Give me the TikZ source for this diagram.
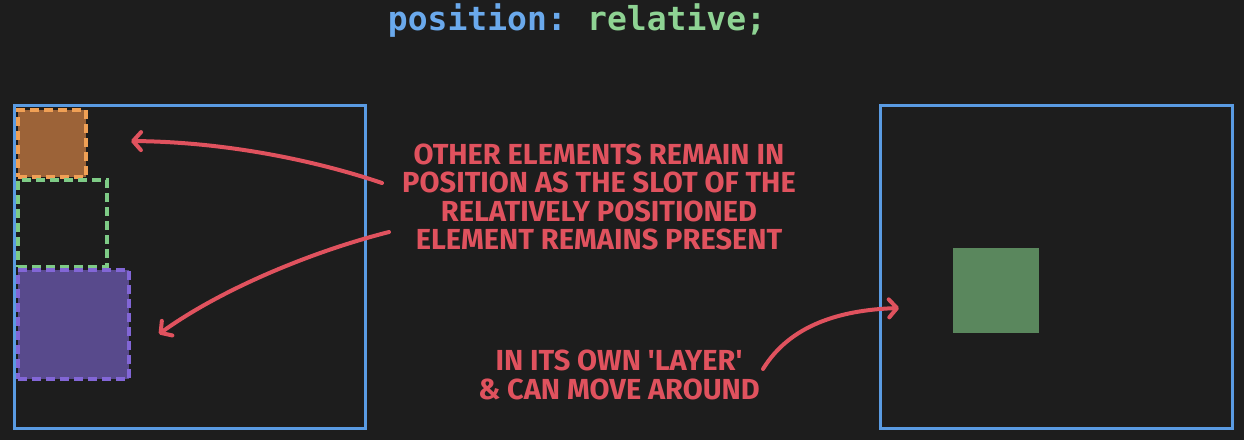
\documentclass[tikz,border=0pt]{standalone}
\usepackage{fontspec}
\usetikzlibrary{arrows.meta}
\newfontfamily\handfont{Fira Sans}
\newfontfamily\codefont{DejaVu Sans Mono}
\definecolor{bg}{HTML}{1D1D1D}
\definecolor{boxblue}{HTML}{5A9BE2}
\definecolor{codeblue}{HTML}{6AA9EC}
\definecolor{codegreen}{HTML}{8ED393}
\definecolor{orfill}{HTML}{9C6338}
\definecolor{ordash}{HTML}{F0A055}
\definecolor{grdash}{HTML}{7ECB86}
\definecolor{pufill}{HTML}{584A8C}
\definecolor{pudash}{HTML}{8266D6}
\definecolor{grfill}{HTML}{5A875D}
\definecolor{hred}{HTML}{E0525E}
\tikzset{
  frame/.style={draw=boxblue, line width=3pt, inner sep=0pt, anchor=north west},
  dbox/.style={line width=4pt, dash pattern=on 9pt off 5pt, inner sep=0pt, anchor=north west},
  note/.style={text=hred, font=\handfont\bfseries\fontsize{29}{28.5}\selectfont, align=center},
  redarrow/.style={draw=hred, line width=4pt, line cap=round, -{Straight Barb[length=8pt,width=18pt,line cap=round,line join=round]}}
}
\begin{document}
\begin{tikzpicture}[x=1pt,y=-1pt]
\fill[bg] (0,0) rectangle (1244,440);
\useasboundingbox (0,0) rectangle (1244,440);
% title
\node (title) at (577,21) {\codefont\bfseries\fontsize{33}{33}\selectfont\textcolor{codeblue}{position:}\hspace{0.62em}\textcolor{codegreen}{relative;}};
% left container
\node[frame, minimum width=351pt, minimum height=323pt] (leftbox) at (13,104) {};
\node[dbox, draw=ordash, fill=orfill, minimum width=68pt, minimum height=67pt] (orange) at (16,108) {};
\node[dbox, draw=grdash, minimum width=89pt, minimum height=87pt] (green) at (16,178) {};
\node[dbox, draw=pudash, fill=pufill, minimum width=111pt, minimum height=109pt] (purple) at (16,268) {};
% right container
\node[frame, minimum width=352pt, minimum height=323pt] (rightbox) at (879,104) {};
\node[fill=grfill, inner sep=0pt, minimum width=86pt, minimum height=85pt, anchor=north west] (moved) at (953,248) {};
% notes
\node[note] (note1) at (599,197) {OTHER ELEMENTS REMAIN IN\\POSITION AS THE SLOT OF THE\\RELATIVELY POSITIONED\\ELEMENT REMAINS PRESENT};
\node[note] (note2) at (619,375) {IN ITS OWN 'LAYER'\\\& CAN MOVE AROUND};
% arrows
\coordinate (a1s) at (382,183);
\coordinate (a1e) at (131,141);
\coordinate (a2s) at (389,232);
\coordinate (a2e) at (159,334);
\coordinate (a3s) at (763,369);
\coordinate (a3e) at (899,308);
\draw[redarrow] (a1s) .. controls (320,162) and (230,142) .. (a1e);
\draw[redarrow] (a2s) .. controls (310,252) and (220,290) .. (a2e);
\draw[redarrow] (a3s) .. controls (790,325) and (840,310) .. (a3e);
\end{tikzpicture}
\end{document}
